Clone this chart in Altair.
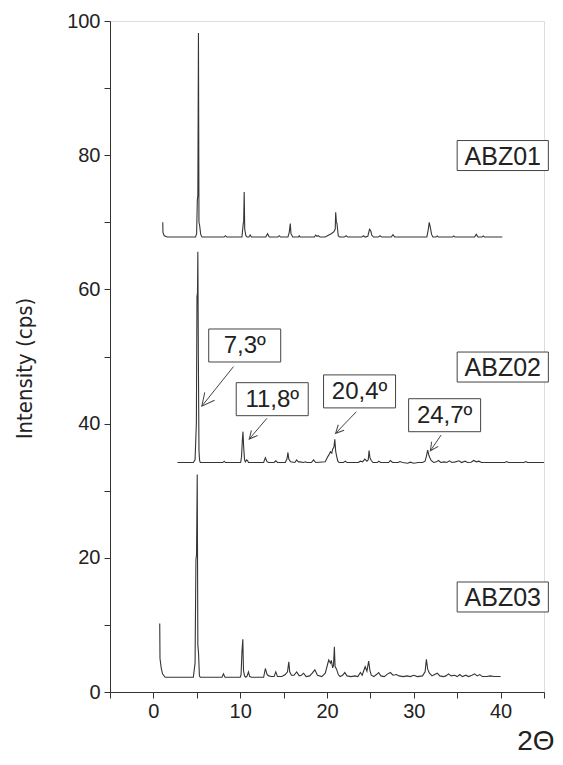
import math
import altair as alt
import pandas as pd

# ---------------- data ----------------
abz01_x = [1.08, 1.1, 1.25, 1.6, 4.85, 4.98, 5.06, 5.12, 5.19, 5.25, 5.32, 5.45, 5.6,
           8.15, 8.3, 8.45, 10.2, 10.35, 10.4, 10.46, 10.52, 10.65, 10.8, 11.0, 11.15, 11.3,
           12.95, 13.15, 13.35, 14.35, 14.5, 14.65, 15.5, 15.65, 15.77, 15.85, 16.05,
           16.7, 16.8, 16.9, 18.55, 18.7, 18.85, 19.0, 19.2, 19.8, 20.2, 20.5, 20.8, 20.95,
           21.0, 21.08, 21.15, 21.3, 21.45, 22.0, 22.2, 22.4, 24.0, 24.2, 24.4, 24.7, 24.9,
           25.05, 25.15, 25.35, 25.9, 26.1, 26.3, 27.4, 27.6, 27.8, 31.5, 31.65, 31.78,
           31.88, 31.95, 32.05, 32.2, 32.55, 32.7, 32.85, 34.45, 34.6, 34.75, 37.0, 37.2,
           37.4, 37.85, 38.0, 38.15, 40.2]
abz01_y = [70.0, 68.5, 68.0, 67.8, 67.8, 68.3, 73.3, 74.0, 98.2, 70.0, 69.6, 68.2, 67.8,
           67.8, 68.0, 67.8, 67.8, 69.8, 70.1, 74.5, 69.0, 68.0, 67.8, 67.8, 68.1, 67.8,
           67.8, 68.3, 67.8, 67.8, 68.0, 67.8, 67.8, 68.5, 69.8, 68.3, 67.8,
           67.8, 68.0, 67.8, 67.8, 68.1, 67.9, 68.0, 67.8, 67.8, 68.1, 68.3, 68.6, 69.0,
           71.5, 70.1, 69.8, 68.0, 67.8, 67.8, 68.0, 67.8, 67.8, 68.0, 67.8, 67.9, 68.95,
           68.7, 68.1, 67.8, 67.8, 68.0, 67.8, 67.8, 68.15, 67.8, 67.8, 68.8, 70.0,
           69.4, 68.9, 68.2, 67.8, 67.8, 67.95, 67.8, 67.8, 67.95, 67.8, 67.8, 68.2,
           67.8, 67.8, 67.95, 67.8, 67.8]

abz02_x = [2.77, 4.6, 4.8, 4.95, 5.02, 5.08, 5.12, 5.18, 5.25, 5.32, 5.4, 8.0, 8.15, 8.3,
           10.05, 10.15, 10.25, 10.32, 10.4, 10.5, 10.6, 10.75, 10.85, 10.95, 12.7, 12.9,
           13.1, 13.3, 13.9, 14.1, 14.3, 15.2, 15.4, 15.5, 15.6, 15.8, 16.3, 16.5, 16.7,
           16.9, 17.3, 17.5, 17.7, 18.2, 18.45, 18.7, 19.8, 20.05, 20.2, 20.4, 20.55, 20.65,
           20.8, 20.9, 21.0, 21.1, 21.25, 21.4, 21.9, 22.1, 22.3, 23.6, 23.85, 24.1, 24.35,
           24.6, 24.75, 24.85, 24.95, 25.1, 25.3, 25.8, 25.95, 26.2, 27.1, 27.3, 27.55,
           28.2, 28.4, 28.7, 29.3, 29.6, 30.0, 30.5, 31.0, 31.3, 31.45, 31.6, 31.75, 31.85,
           32.0, 32.3, 32.6, 32.85, 33.1, 33.5, 33.8, 34.1, 34.4, 34.8, 35.2, 35.5, 35.9,
           36.2, 36.6, 36.9, 37.2, 37.5, 37.8, 40.5, 40.7, 40.9, 42.7, 42.9, 43.1, 45.0]
abz02_y = [34.2, 34.2, 34.6, 40.0, 58.9, 59.5, 65.6, 50.0, 36.0, 34.5, 34.2, 34.2, 34.4, 34.2,
           34.2, 35.0, 37.55, 38.8, 36.5, 34.6, 34.3, 34.6, 34.5, 34.2, 34.2, 34.9,
           34.3, 34.2, 34.2, 34.45, 34.2, 34.2, 34.8, 35.7, 34.7, 34.3, 34.2, 34.6, 34.3,
           34.3, 34.2, 34.3, 34.2, 34.2, 34.6, 34.2, 34.3, 35.0, 35.3, 35.8, 35.6, 36.2,
           36.5, 37.65, 35.9, 35.2, 34.4, 34.2, 34.2, 34.4, 34.2, 34.2, 34.4, 34.3, 34.7,
           34.4, 34.6, 36.0, 34.9, 34.5, 34.2, 34.2, 34.4, 34.2, 34.2, 34.5, 34.2,
           34.2, 34.35, 34.2, 34.1, 34.25, 34.1, 34.2, 34.2, 34.4, 35.1, 36.05, 35.2, 34.9,
           34.5, 34.2, 34.3, 34.5, 34.2, 34.3, 34.2, 34.45, 34.2, 34.3, 34.45, 34.2, 34.4,
           34.2, 34.25, 34.5, 34.3, 34.4, 34.2, 34.2, 34.35, 34.2, 34.2, 34.35, 34.2, 34.2]

abz03_x = [0.73, 0.76, 0.9, 1.05, 1.35, 4.6, 4.8, 4.9, 4.97, 5.05, 5.12, 5.2, 5.3, 5.4,
           7.9, 8.07, 8.25, 10.0, 10.1, 10.2, 10.3, 10.38, 10.5, 10.65, 10.8, 10.95, 11.1,
           11.3, 12.7, 12.9, 13.1, 13.3, 13.6, 13.9, 14.1, 14.3, 14.8, 15.2, 15.45, 15.6,
           15.7, 15.9, 16.2, 16.5, 16.8, 17.05, 17.3, 17.6, 18.0, 18.3, 18.6, 18.9, 19.4,
           19.8, 20.0, 20.2, 20.4, 20.5, 20.65, 20.75, 20.85, 20.93, 21.1, 21.3, 21.5, 21.8,
           22.05, 22.3, 22.8, 23.2, 23.55, 23.85, 24.05, 24.4, 24.6, 24.8, 24.95, 25.1, 25.4,
           25.7, 25.95, 26.2, 26.6, 27.0, 27.3, 27.6, 28.0, 28.3, 28.8, 29.2, 29.6, 30.0,
           30.4, 31.0, 31.3, 31.45, 31.6, 31.8, 32.1, 32.4, 32.7, 33.0, 33.4, 33.7, 34.0,
           34.3, 34.7, 35.0, 35.3, 35.6, 36.0, 36.3, 36.7, 37.0, 37.3, 37.6, 37.9, 38.4,
           38.8, 39.3, 40.0]
abz03_y = [10.2, 5.0, 3.6, 2.7, 2.2, 2.2, 4.3, 19.7, 20.5, 32.4, 7.0, 5.8, 2.4, 2.2,
           2.2, 2.7, 2.2, 2.2, 2.6, 5.95, 7.85, 3.2, 2.4, 2.2, 2.4, 3.0, 2.3,
           2.2, 2.2, 3.5, 2.6, 2.4, 2.3, 2.3, 3.0, 2.3, 2.3, 2.6, 3.0, 4.5,
           3.0, 2.5, 2.5, 3.0, 2.4, 2.5, 2.8, 2.3, 2.4, 2.8, 3.3, 2.5, 2.3,
           2.8, 3.8, 4.77, 4.3, 4.7, 3.6, 4.0, 6.75, 3.8, 3.4, 2.6, 2.3, 2.5,
           2.9, 2.4, 2.3, 2.4, 2.3, 2.9, 2.5, 3.77, 3.1, 4.6, 3.2, 2.5, 2.3,
           2.6, 2.9, 2.4, 2.3, 2.7, 2.9, 2.5, 2.6, 2.4, 2.3, 2.4, 2.3, 2.5,
           2.3, 2.4, 3.0, 4.87, 3.4, 2.8, 2.4, 2.6, 2.8, 2.4, 2.3, 2.4, 2.7,
           2.4, 2.5, 2.3, 2.6, 2.3, 2.5, 2.3, 2.5, 2.7, 2.4, 2.6, 2.3, 2.3,
           2.4, 2.3, 2.3]

# sample labels (boxed) : centre position in data units
sample_names = ["ABZ01", "ABZ02", "ABZ03"]
sample_x = [40.25, 40.25, 40.25]
sample_y = [79.95, 48.43, 14.16]

# peak annotations: box centre, arrow start and arrow tip (data units)
peak_labels = ["7,3º", "11,8º", "20,4º", "24,7º"]
peak_box_x = [10.52, 13.69, 23.75, 33.55]
peak_box_y = [51.64, 43.64, 44.8, 41.25]
arrow_x0 = [9.23, 13.08, 23.38, 33.15]
arrow_y0 = [48.5, 40.79, 41.77, 38.3]
arrow_x1 = [5.58, 11.04, 20.99, 31.91]
arrow_y1 = [42.6, 37.7, 38.55, 35.96]
arrow_head = [14, 9, 9, 9]   # arm length in px

x_ticks = list(range(-5, 50, 5))
y_ticks = list(range(0, 101, 10))

# ---------------- layout ----------------
W, H = 434, 671
X_MIN, X_MAX, Y_MIN, Y_MAX = -5, 45, 0, 100
sx = W / (X_MAX - X_MIN)
sy = H / (Y_MAX - Y_MIN)

LINE = "#353535"
FONT = "Liberation Sans"
NARROW = "Liberation Sans Narrow, Arial Narrow, DejaVu Sans Condensed, Liberation Sans, sans-serif"

rows = []
for name, xs_, ys_ in [("ABZ01", abz01_x, abz01_y), ("ABZ02", abz02_x, abz02_y),
                       ("ABZ03", abz03_x, abz03_y)]:
    for i, (a, b) in enumerate(zip(xs_, ys_)):
        rows.append({"series": name, "order": i, "x": a, "y": b})
df = pd.DataFrame(rows)

xs = alt.Scale(domain=[X_MIN, X_MAX], nice=False, zero=False)
ys = alt.Scale(domain=[Y_MIN, Y_MAX], nice=False, zero=False)

lines = alt.Chart(df).mark_line(color=LINE, strokeWidth=1.1).encode(
    x=alt.X("x:Q", scale=xs, axis=alt.Axis(
        values=x_ticks, labelExpr="datum.value % 10 == 0 ? datum.label : ''",
        tickSize=6, labelFontSize=20, labelFont=FONT, labelColor="#222",
        labelPadding=3, grid=False, domainColor="#333", tickColor="#333",
        title="2Θ", titleFont=FONT, titleFontSize=28, titleFontWeight="normal",
        titleColor="#222", titleX=444, titleY=57, titleAlign="right",
        titleBaseline="alphabetic")),
    y=alt.Y("y:Q", scale=ys, axis=alt.Axis(
        values=y_ticks, labelExpr="datum.value % 20 == 0 ? datum.label : ''",
        tickSize=6, labelFontSize=20, labelFont=FONT, labelColor="#222",
        labelPadding=4, grid=False, domainColor="#333", tickColor="#333",
        title="Intensity (cps)", titleFont=NARROW,
        titleFontSize=22, titleFontWeight="normal", titleColor="#222",
        titleX=-86, titleY=347, titleAlign="center", titleBaseline="middle")),
    detail="series:N",
    order="order:Q",
)

# sample boxes
hw_s, hh_s = 45.6 / sx, 15.0 / sy
sdf = pd.DataFrame({"name": sample_names, "x": sample_x, "y": sample_y})
sdf["x0"] = sdf.x - hw_s
sdf["x1"] = sdf.x + hw_s
sdf["y0"] = sdf.y - hh_s
sdf["y1"] = sdf.y + hh_s

sbox = alt.Chart(sdf).mark_rect(fill="white", stroke="#444", strokeWidth=1).encode(
    x=alt.X("x0:Q", scale=xs), x2="x1:Q", y=alt.Y("y0:Q", scale=ys), y2="y1:Q")
stext = alt.Chart(sdf).mark_text(font=FONT, fontSize=25, color="#222",
                                 baseline="middle", align="center", dy=1).encode(
    x=alt.X("x:Q", scale=xs), y=alt.Y("y:Q", scale=ys), text="name:N")

# peak annotation boxes
hw_p, hh_p = 36.0 / sx, 16.5 / sy
pdf = pd.DataFrame({"label": peak_labels, "x": peak_box_x, "y": peak_box_y,
                    "ax0": arrow_x0, "ay0": arrow_y0, "ax1": arrow_x1, "ay1": arrow_y1,
                    "head": arrow_head})
pdf["x0"] = pdf.x - hw_p
pdf["x1"] = pdf.x + hw_p
pdf["y0"] = pdf.y - hh_p
pdf["y1"] = pdf.y + hh_p


def head_angle(r):
    dx = (r.ax1 - r.ax0) * sx
    dy = -(r.ay1 - r.ay0) * sy
    return math.degrees(math.atan2(dx, -dy)) % 360


pdf["angle"] = pdf.apply(head_angle, axis=1)
pdf["size"] = (2 * pdf["head"] / 1.118) ** 2

pbox = alt.Chart(pdf).mark_rect(fill="white", stroke="#444", strokeWidth=1).encode(
    x=alt.X("x0:Q", scale=xs), x2="x1:Q", y=alt.Y("y0:Q", scale=ys), y2="y1:Q")
ptext = alt.Chart(pdf).mark_text(font=FONT, fontSize=24, color="#222",
                                 baseline="middle", align="center", dy=1).encode(
    x=alt.X("x:Q", scale=xs), y=alt.Y("y:Q", scale=ys), text="label:N")
shaft = alt.Chart(pdf).mark_rule(color="#444", strokeWidth=1).encode(
    x=alt.X("ax0:Q", scale=xs), y=alt.Y("ay0:Q", scale=ys), x2="ax1:Q", y2="ay1:Q")
heads = alt.Chart(pdf).mark_point(
    shape="M-0.5,1L0,0L0.5,1", filled=False, stroke="#444", strokeWidth=1, opacity=1
).encode(
    x=alt.X("ax1:Q", scale=xs), y=alt.Y("ay1:Q", scale=ys),
    angle=alt.Angle("angle:Q", scale=None),
    size=alt.Size("size:Q", scale=None),
)

chart = alt.layer(lines, sbox, stext, pbox, ptext, shaft, heads).properties(
    width=W, height=H,
    autosize=alt.AutoSizeParams(type="none"),
    padding={"left": 102, "top": 13, "right": 11, "bottom": 65},
).configure_view(strokeWidth=0).configure(background="white")

chart.save("out.html", embed_options={"renderer": "svg", "actions": False})
